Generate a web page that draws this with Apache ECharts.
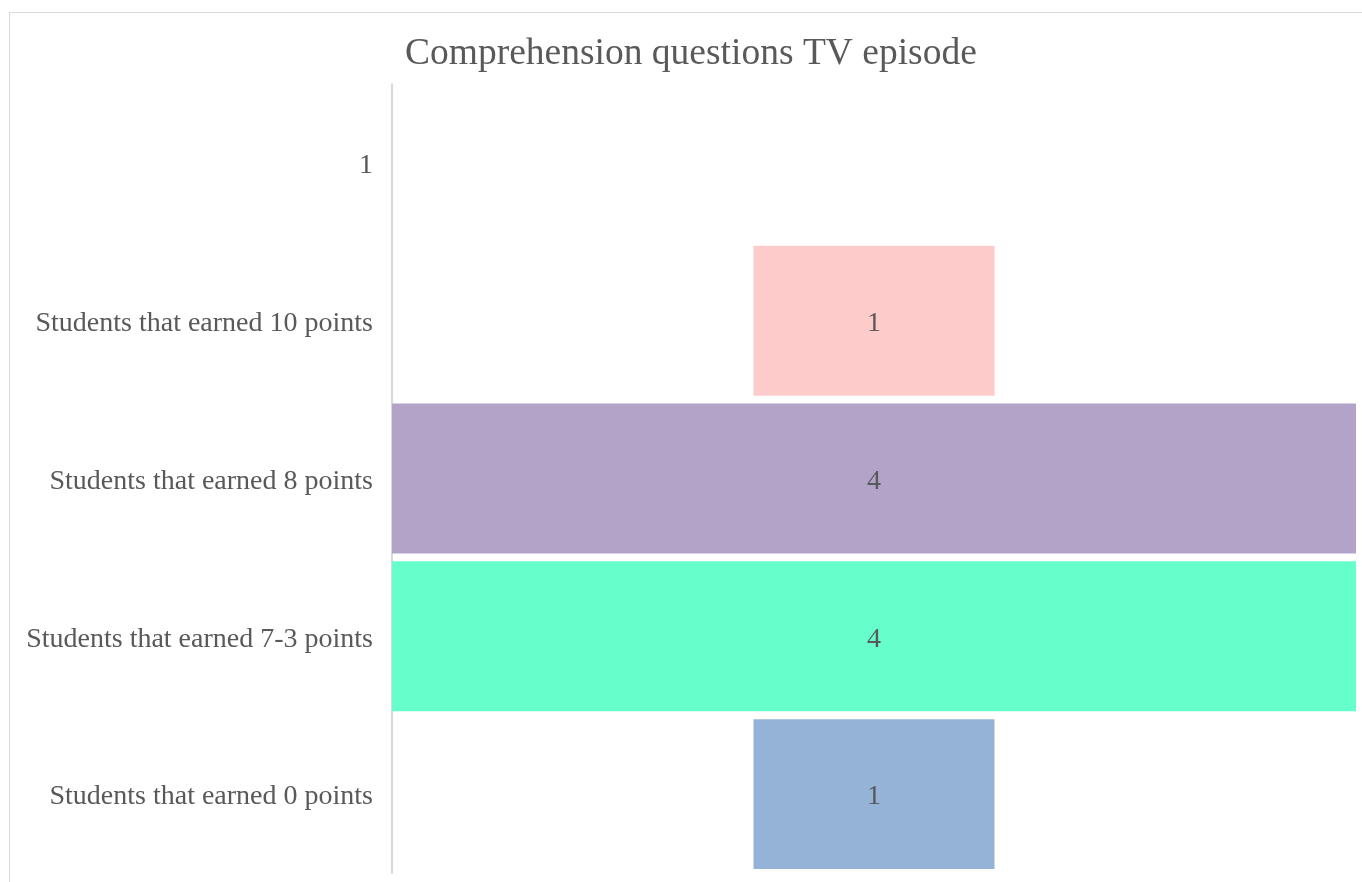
<!DOCTYPE html>
<html>
<head>
<meta charset="utf-8">
<title>Comprehension questions TV episode</title>
<script src="https://cdn.jsdelivr.net/npm/echarts@6/dist/echarts.min.js"></script>
<style>
  html, body { margin: 0; padding: 0; background: #fff; overflow: hidden; }
  #frame {
    position: absolute; left: 9px; top: 12px; width: 1400px; height: 900px;
    border-left: 1px solid #d9d9d9; border-top: 1px solid #d9d9d9;
  }
  #chart { position: absolute; left: 0; top: 0; width: 1362px; height: 882px; }
</style>
</head>
<body>
<div id="frame"></div>
<div id="chart"></div>
<script>
const categories = [
  '1',
  'Students that earned 10 points',
  'Students that earned 8 points',
  'Students that earned 7-3 points',
  'Students that earned 0 points'
]
const values = [null, 1, 4, 4, 1]
const colors = ['#ffffff', '#fdcbca', '#b2a3c8', '#66ffcc', '#95b3d7']

const maxValue = 4
// invisible spacer so each bar sits centred like a funnel
const spacer = values.map(v => (v == null ? null : (maxValue - v) / 2))

const chart = echarts.init(document.getElementById('chart'))

chart.setOption({
  animation: false,
  title: {
    text: 'Comprehension questions TV episode',
    left: 400,
    top: 30,
    textStyle: {
      fontFamily: 'Liberation Serif',
      fontSize: 37.5,
      fontWeight: 'normal',
      color: '#595959'
    }
  },
  grid: { left: 392, right: 6, top: 84, bottom: 9, containLabel: false },
  xAxis: {
    type: 'value',
    min: 0,
    max: maxValue,
    show: false
  },
  yAxis: {
    type: 'category',
    inverse: true,
    data: categories,
    axisLine: { lineStyle: { color: '#d9d9d9', width: 2 } },
    axisTick: { show: false },
    axisLabel: {
      margin: 19,
      formatter: '{a|{value}}',
      rich: {
        a: {
          padding: [6, 0, 0, 0],
          fontFamily: 'Liberation Serif',
          fontSize: 28,
          color: '#595959'
        }
      }
    }
  },
  series: [
    {
      type: 'bar',
      stack: 'funnel',
      data: spacer,
      itemStyle: { color: 'transparent' },
      barCategoryGap: '5%',
      silent: true
    },
    {
      type: 'bar',
      stack: 'funnel',
      barCategoryGap: '5%',
      data: values.map((v, i) => ({ value: v, itemStyle: { color: colors[i] } })),
      label: {
        show: true,
        position: 'inside',
        offset: [0, 3],
        fontFamily: 'Liberation Serif',
        fontSize: 28,
        color: '#595959',
        formatter: p => (p.value == null ? '' : p.value)
      }
    }
  ]
})

window.addEventListener('resize', () => chart.resize())
</script>
</body>
</html>
